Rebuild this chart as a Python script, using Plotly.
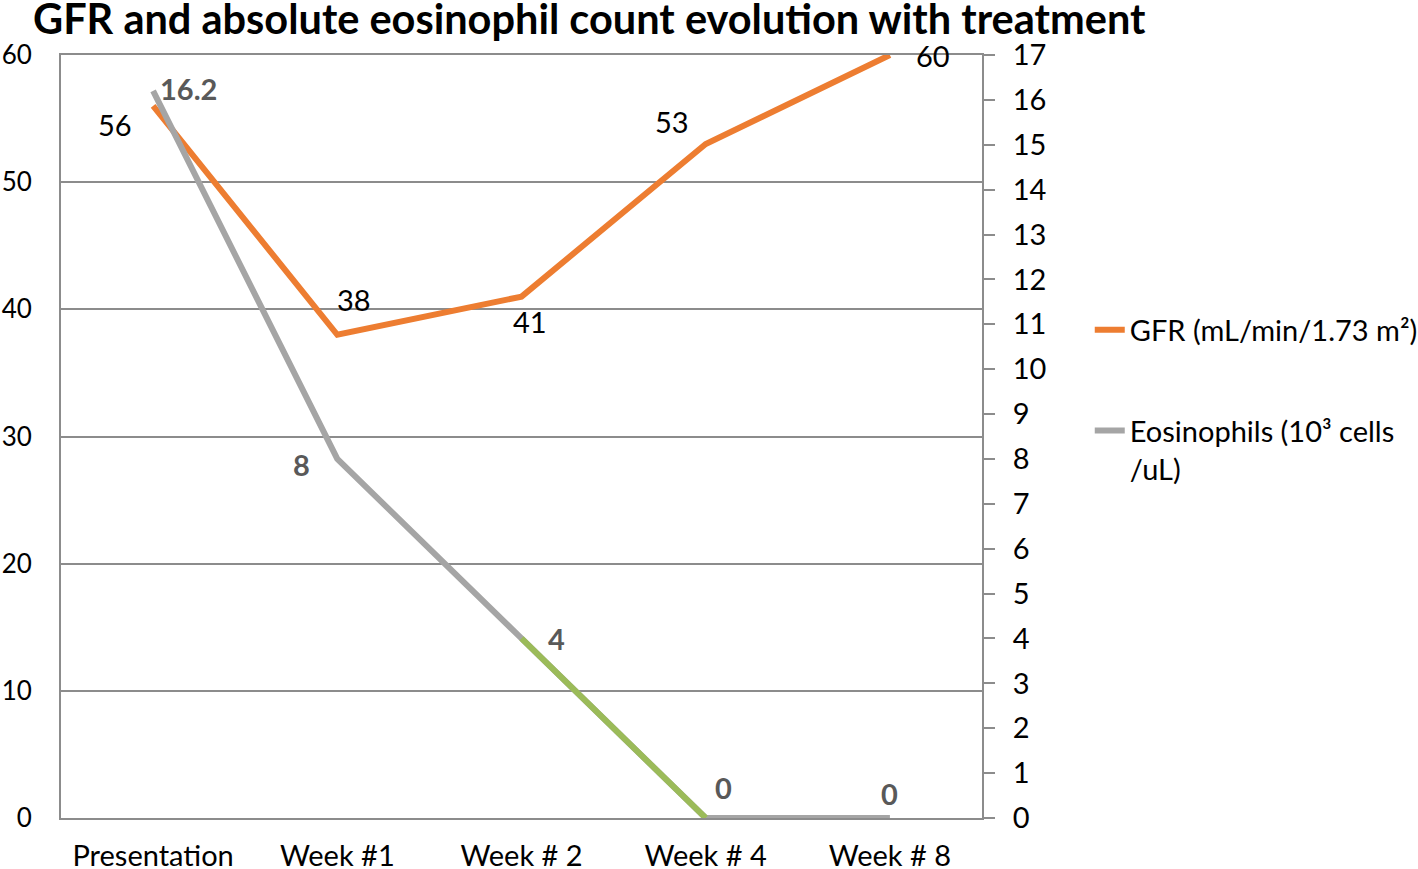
import plotly.graph_objects as go

categories = ["Presentation", "Week #1", "Week # 2", "Week # 4", "Week # 8"]
gfr = [56, 38, 41, 53, 60]
eos = [16.2, 8, 4, 0, 0]
gfr_name = "GFR (mL/min/1.73 m²)"
eos_name = "Eosinophils (10³ cells<br>/uL)"
title_text = "GFR and absolute eosinophil count evolution with treatment"

# label offsets in pixels (style)
gfr_dx = [-38, 17, 8, -34, 43]
gfr_dy = [-19, 35, -25, 23, 0]
eos_dx = [35, -36, 35, 18, 0]
eos_dy = [2, -6, 0, 31, 25]

FONT = "Lato, Carlito, Calibri, sans-serif"
FS = 29
ORANGE = "#ED7D31"
GRAY = "#A5A5A5"
GREEN = "#9BBB59"
AXIS = "#8C8C8C"

fig = go.Figure()
fig.add_trace(go.Scatter(x=categories, y=gfr, mode="lines", name=gfr_name, legendgroup="g1",
                         line=dict(color=ORANGE, width=6), yaxis="y"))
fig.add_trace(go.Scatter(x=categories, y=eos, mode="lines", name=eos_name, legendgroup="g2",
                         line=dict(color=GRAY, width=6), yaxis="y2"))
fig.add_trace(go.Scatter(x=categories[2:4], y=eos[2:4], mode="lines", showlegend=False,
                         legendgroup="g2", line=dict(color=GREEN, width=6), yaxis="y2"))

ann = []
for c, v, dx, dy in zip(categories, gfr, gfr_dx, gfr_dy):
    ann.append(dict(x=c, y=v, xref="x", yref="y", text=str(v), showarrow=False,
                    xshift=dx, yshift=dy, font=dict(family=FONT, size=FS, color="black")))
for c, v, dx, dy in zip(categories, eos, eos_dx, eos_dy):
    ann.append(dict(x=c, y=v, xref="x", yref="y2", text=f"<b>{v:g}</b>", showarrow=False,
                    xshift=dx, yshift=dy, font=dict(family=FONT, size=FS, color="#595959")))

fig.update_layout(
    width=1418, height=869,
    margin=dict(l=61, r=436, t=55, b=51, autoexpand=False),
    paper_bgcolor="white", plot_bgcolor="white",
    font=dict(family=FONT, size=FS, color="black"),
    title=dict(text=f"<b>{title_text}</b>", x=33 / 1418, xref="container", xanchor="left",
               y=1 - 19 / 869, yref="container", yanchor="middle",
               font=dict(family=FONT, size=41.5, color="black")),
    showlegend=True,
    legend=dict(x=1.117, y=0.673, xanchor="left", yanchor="top", tracegroupgap=60, valign="top",
                font=dict(family=FONT, size=FS, color="black"), bgcolor="rgba(0,0,0,0)"),
    annotations=ann,
    xaxis=dict(type="category", range=[-0.5, 4.5], showgrid=False, showline=True, mirror=True,
               linecolor=AXIS, linewidth=2, ticks="", ticklabelstandoff=11, automargin=False,
               tickfont=dict(family=FONT, size=FS, color="black")),
    yaxis=dict(range=[0, 60], dtick=10, showgrid=True, gridcolor=AXIS, gridwidth=1.5,
               zeroline=False, showline=True, linecolor=AXIS, linewidth=2, ticks="",
               ticklabelstandoff=22, automargin=False,
               tickfont=dict(family=FONT, size=26, color="black")),
    yaxis2=dict(range=[0, 17], dtick=1, overlaying="y", side="right", showgrid=False,
                zeroline=False, showline=True, linecolor=AXIS, linewidth=2,
                ticks="outside", ticklen=11, tickcolor=AXIS, tickwidth=2, automargin=False,
                ticklabelstandoff=12, tickfont=dict(family=FONT, size=FS, color="black")),
)

fig.write_html("out.html", config={"displayModeBar": False},
               post_script="document.body.style.margin='0';document.body.style.overflow='hidden';")
